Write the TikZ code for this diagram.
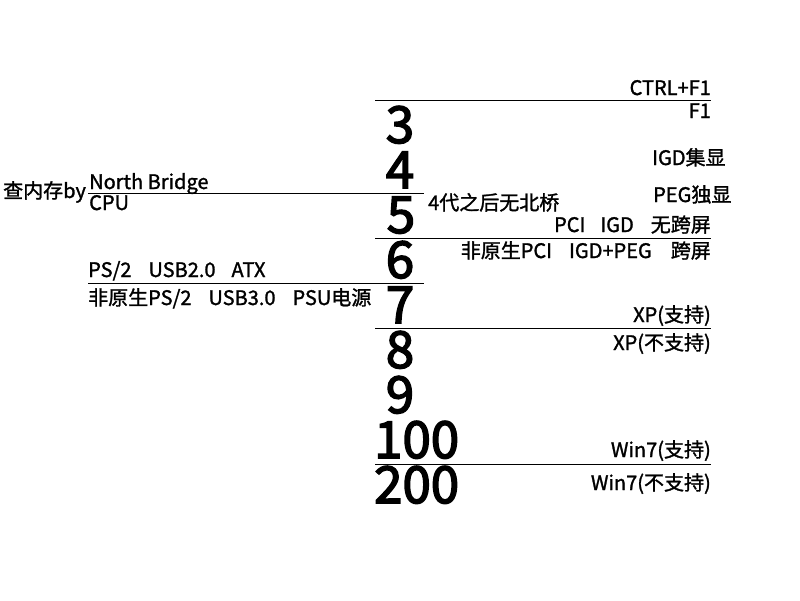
\documentclass[tikz,border=0pt]{standalone}
\usepackage{fontspec}
\setmainfont{Noto Sans CJK SC}[FakeBold=1.4]
\newfontfamily\bigfont{Noto Sans CJK SC}[FakeBold=3]
\begin{document}
\begin{tikzpicture}[x=1pt,y=-1pt,
  rule/.style={line width=1pt},
  small/.style={inner sep=0pt,font=\fontsize{20}{22}\selectfont},
  big/.style={inner sep=0pt,anchor=base,font=\bigfont\fontsize{51}{56}\selectfont}]
\useasboundingbox[fill=white] (0,0) rectangle (800,600);
% separator lines
\draw[rule] (375,100) coordinate (l1a) -- (711,100) coordinate (l1b);
\draw[rule] (88,193) coordinate (l2a) -- (424,193) coordinate (l2b);
\draw[rule] (375,238) coordinate (l3a) -- (711,238) coordinate (l3b);
\draw[rule] (88,283) coordinate (l4a) -- (424,283) coordinate (l4b);
\draw[rule] (375,328) coordinate (l5a) -- (711,328) coordinate (l5b);
\draw[rule] (375,464) coordinate (l6a) -- (711,464) coordinate (l6b);
% big numbers
\node[big] (n3) at (400,143) {3};
\node[big] (n4) at (400,188) {4};
\node[big] (n5) at (401,233) {5};
\node[big] (n6) at (400,278) {6};
\node[big] (n7) at (400,323) {7};
\node[big] (n8) at (400,368) {8};
\node[big] (n9) at (400,413) {9};
\node[big,anchor=base west] (n100) at (374,458) {100};
\node[big,anchor=base west] (n200) at (374,503) {200};
% right texts
\node[small,anchor=base east] (t1) at (711,95) {CTRL+F1};
\node[small,anchor=base east] (t2) at (711,118) {F1};
\node[small,anchor=base west] (t3) at (652,165) {IGD集显};
\node[small,anchor=base west] (t4) at (653,202) {PEG独显};
\node[small,anchor=base west] (t5) at (428,210) {4代之后无北桥};
\node[small,anchor=base east] (t6) at (711,232) {PCI\hspace{15pt}IGD\hspace{17pt}无跨屏};
\node[small,anchor=base east] (t7) at (711,258) {非原生PCI\hspace{17pt}IGD+PEG\hspace{19pt}跨屏};
\node[small,anchor=base east] (t8) at (711,322) {XP(支持)};
\node[small,anchor=base east] (t9) at (711,350) {XP(不支持)};
\node[small,anchor=base east] (t10) at (711,457) {Win7(支持)};
\node[small,anchor=base east] (t11) at (711,490) {Win7(不支持)};
% left texts
\node[small,anchor=base west] (c1) at (3,198) {查内存by};
\node[small,anchor=base west] (c2) at (89,189) {North Bridge};
\node[small,anchor=base west] (c3) at (89,210) {CPU};
\node[small,anchor=base west] (c4) at (88,277) {PS/2\hspace{17pt}USB2.0\hspace{16pt}ATX};
\node[small,anchor=base west] (c5) at (88,305) {非原生PS/2\hspace{17pt}USB3.0\hspace{17pt}PSU电源};
\end{tikzpicture}
\end{document}
